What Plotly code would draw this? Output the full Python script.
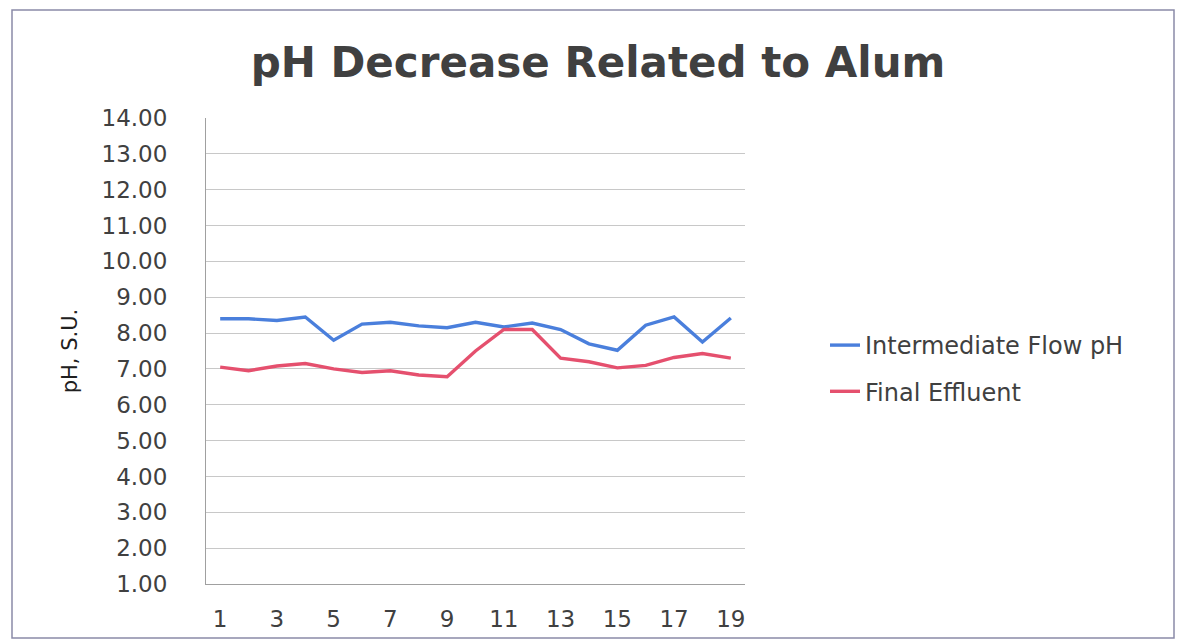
import plotly.graph_objects as go

days = list(range(1, 20))
intermediate_ph = [8.40, 8.40, 8.35, 8.45, 7.80, 8.25, 8.30, 8.20, 8.15, 8.30,
                   8.17, 8.28, 8.10, 7.70, 7.52, 8.22, 8.45, 7.75, 8.42]
final_effluent = [7.05, 6.95, 7.08, 7.15, 7.00, 6.90, 6.95, 6.83, 6.78, 7.50,
                  8.10, 8.10, 7.30, 7.20, 7.03, 7.10, 7.32, 7.43, 7.30]
y_ticks = [1, 2, 3, 4, 5, 6, 7, 8, 9, 10, 11, 12, 13, 14]
x_ticks = [1, 3, 5, 7, 9, 11, 13, 15, 17, 19]

W, H = 1182, 644
L, R, T, B = 206, 437, 118, 60
pw, ph = W - L - R, H - T - B

fig = go.Figure()
fig.add_trace(go.Scatter(x=days, y=intermediate_ph, mode="lines",
                         name="Intermediate Flow pH", legendgroup="a",
                         line=dict(color="#4a7fdc", width=3.4)))
fig.add_trace(go.Scatter(x=days, y=final_effluent, mode="lines",
                         name="Final Effluent", legendgroup="b",
                         line=dict(color="#e5506e", width=3.4)))

def px2paper_x(px):
    return (px - L) / pw

def px2paper_y(py):
    return (H - B - py) / ph

fig.add_shape(type="rect", xref="paper", yref="paper",
              x0=px2paper_x(12), x1=px2paper_x(1174),
              y0=px2paper_y(638), y1=px2paper_y(10),
              line=dict(color="#8a8aa8", width=1.5), fillcolor="rgba(0,0,0,0)",
              layer="below")

fig.update_layout(
    width=W, height=H,
    margin=dict(l=L, r=R, t=T, b=B),
    paper_bgcolor="white", plot_bgcolor="white",
    title=dict(text="<b>pH Decrease Related to Alum</b>",
               x=598 / W, xref="container", xanchor="center",
               y=1 - 62 / H, yref="container", yanchor="middle",
               font=dict(family="DejaVu Sans", size=42, color="#404040")),
    font=dict(family="DejaVu Sans", color="#404040"),
    legend=dict(x=px2paper_x(825), y=px2paper_y(323), xanchor="left", yanchor="top",
                font=dict(size=24, color="#404040"), tracegroupgap=12,
                traceorder="grouped",
                bgcolor="rgba(0,0,0,0)"),
    showlegend=True,
)
fig.update_xaxes(range=[0.5, 19.5], tickvals=x_ticks, ticktext=[str(v) for v in x_ticks],
                 showgrid=False, showline=True, linecolor="#a0a0a0", linewidth=1,
                 ticks="", ticklabelstandoff=14, zeroline=False,
                 tickfont=dict(size=23, color="#404040"))
fig.update_yaxes(range=[1, 14], tickvals=y_ticks, tickformat=".2f",
                 showgrid=True, gridcolor="#c8c8c8", gridwidth=1,
                 showline=True, linecolor="#a0a0a0", linewidth=1,
                 ticks="", ticklabelstandoff=33, zeroline=False,
                 tickfont=dict(size=23, color="#404040"),
                 title=dict(text="pH, S.U.", standoff=18,
                            font=dict(size=21, color="#202020")))

fig.write_html("out.html", config={"displayModeBar": False},
               post_script="document.body.style.margin='0';")
